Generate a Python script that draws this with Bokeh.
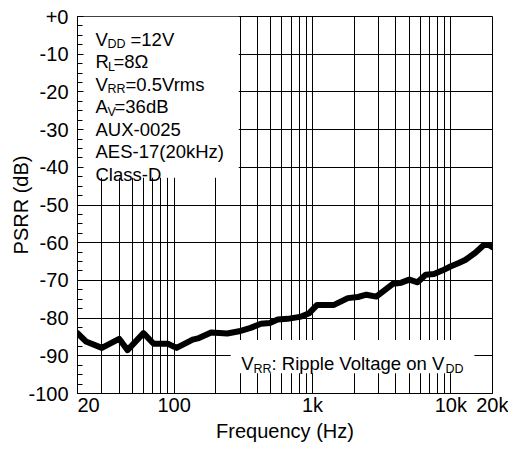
from bokeh.plotting import figure
from bokeh.models import FixedTicker, SingleIntervalTicker, Label, BoxAnnotation, Range1d
from bokeh.embed import file_html
from bokeh.resources import INLINE

# ---- data ----
freq = [20, 23, 30, 40, 46, 60, 71, 90, 104, 136, 151, 185, 242, 294, 357, 424, 492,
        560, 660, 828, 946, 1080, 1430, 1800, 2130, 2450, 2890, 3810, 4380, 5010,
        5750, 6580, 7550, 8650, 9930, 11400, 12700, 15100, 17300, 18800, 20000]
psrr = [-84.0, -86.2, -87.9, -85.5, -88.5, -84.0, -86.8, -86.8, -87.9, -85.7, -85.3,
        -83.8, -84.1, -83.5, -82.6, -81.5, -81.3, -80.4, -80.2, -79.6, -78.7, -76.5,
        -76.5, -74.7, -74.4, -73.8, -74.3, -70.9, -70.6, -69.8, -70.5, -68.5, -68.3,
        -67.4, -66.3, -65.4, -64.6, -62.6, -60.6, -60.6, -61.2]

x_ticks = [20, 100, 1000, 10000, 20000]
x_tick_labels = ["\u00a0\u00a0\u00a0\u00a020", "100", "1k", "10k", "20k"]
x_grid = [20, 30, 40, 50, 60, 70, 80, 90, 100,
          200, 300, 400, 500, 600, 700, 800, 900, 1000,
          2000, 3000, 4000, 5000, 6000, 7000, 8000, 9000, 10000, 20000]
y_ticks = [-100, -90, -80, -70, -60, -50, -40, -30, -20, -10, 0]
y_tick_labels = ["-100", "-90", "-80", "-70", "-60", "-50", "-40", "-30", "-20", "-10", "+0"]

FONT = "Liberation Sans"
TICK_FS = "20px"
ANN_FS = "18.5px"
SUB_FS = "12.5px"

p = figure(frame_width=415, frame_height=377, x_axis_type="log",
           x_range=Range1d(20, 20000), y_range=Range1d(-100, 0),
           output_backend="svg", toolbar_location=None,
           min_border_left=77, min_border_top=16, min_border_right=16, min_border_bottom=40,
           background_fill_color="white", border_fill_color="white")

p.outline_line_color = "black"
p.outline_line_width = 1
p.outline_line_alpha = 1

# grid
p.xgrid.ticker = FixedTicker(ticks=x_grid)
p.ygrid.ticker = FixedTicker(ticks=y_ticks)
for g in (p.xgrid, p.ygrid):
    g.grid_line_color = "black"
    g.grid_line_width = 1
    g.grid_line_alpha = 1

# x axis
p.xaxis.ticker = FixedTicker(ticks=x_ticks, minor_ticks=[])
p.xaxis.major_label_overrides = {t: l for t, l in zip(x_ticks, x_tick_labels)}
p.xaxis.major_tick_in = 0
p.xaxis.major_tick_out = 0
p.xaxis.minor_tick_in = 0
p.xaxis.minor_tick_out = 0
p.xaxis.major_label_standoff = 0
p.xaxis.axis_label = "Frequency (Hz)"
p.xaxis.axis_label_standoff = 1

# y axis
p.yaxis.ticker = SingleIntervalTicker(interval=10, num_minor_ticks=4)
p.yaxis.major_label_overrides = {t: l for t, l in zip(y_ticks, y_tick_labels)}
p.yaxis.major_tick_in = 0
p.yaxis.major_tick_out = 0
p.yaxis.minor_tick_in = 5
p.yaxis.minor_tick_out = 0
p.yaxis.major_label_standoff = 9
p.yaxis.axis_label = "PSRR (dB)"
p.yaxis.axis_label_standoff = -7

for ax in (p.xaxis, p.yaxis):
    ax.axis_line_color = "black"
    ax.major_label_text_font = FONT
    ax.major_label_text_font_size = TICK_FS
    ax.major_label_text_color = "black"
    ax.axis_label_text_font = FONT
    ax.axis_label_text_font_size = TICK_FS
    ax.axis_label_text_font_style = "normal"
    ax.axis_label_text_color = "black"
    ax.minor_tick_line_color = "black"

# curve
p.line(freq, psrr, line_width=6, line_color="black", line_join="round", line_cap="round")

# white boxes
p.add_layout(BoxAnnotation(left=22.1, right=293, top=0, bottom=-42.8,
                           fill_color="white", fill_alpha=1, line_color=None))
p.add_layout(BoxAnnotation(left=256, right=14800, top=-85.8, bottom=-94.6,
                           fill_color="white", fill_alpha=1, line_color=None))


def lab(text, dx, dy, size=ANN_FS, anchor=(20, 0)):
    p.add_layout(Label(x=anchor[0], y=anchor[1], x_offset=dx, y_offset=dy, text=text,
                       text_font=FONT, text_font_size=size, text_color="black",
                       text_align="left", text_baseline="alphabetic"))


# condition box (baselines measured from top of frame)
base = [22.8, 45.3, 67.7, 90.2, 112.6, 135.1, 157.5]
SUBD = 5
lab("V", 18, -base[0]); lab("DD", 30, -base[0] - SUBD, SUB_FS); lab("=12V", 53, -base[0])
lab("R", 18, -base[1]); lab("L", 30.5, -base[1] - SUBD, SUB_FS); lab("=8\u03a9", 36, -base[1])
lab("V", 18, -base[2]); lab("RR", 30, -base[2] - SUBD, SUB_FS); lab("=0.5Vrms", 48, -base[2])
lab("A", 18, -base[3]); lab("V", 30, -base[3] - SUBD, SUB_FS); lab("=36dB", 37, -base[3])
lab("AUX-0025", 18, -base[4])
lab("AES-17(20kHz)", 18, -base[5])
lab("Class-D", 18, -base[6])

# ripple annotation (from bottom of frame)
bl = (20, -100)
lab("V", 163.7, 30.2, anchor=bl)
lab("RR", 176, 30.2 - 5.5, SUB_FS, anchor=bl)
lab(": Ripple Voltage on V", 194, 30.2, anchor=bl)
lab("DD", 368, 30.2 - 5.5, SUB_FS, anchor=bl)

open("out.html", "w").write(file_html(p, INLINE))
